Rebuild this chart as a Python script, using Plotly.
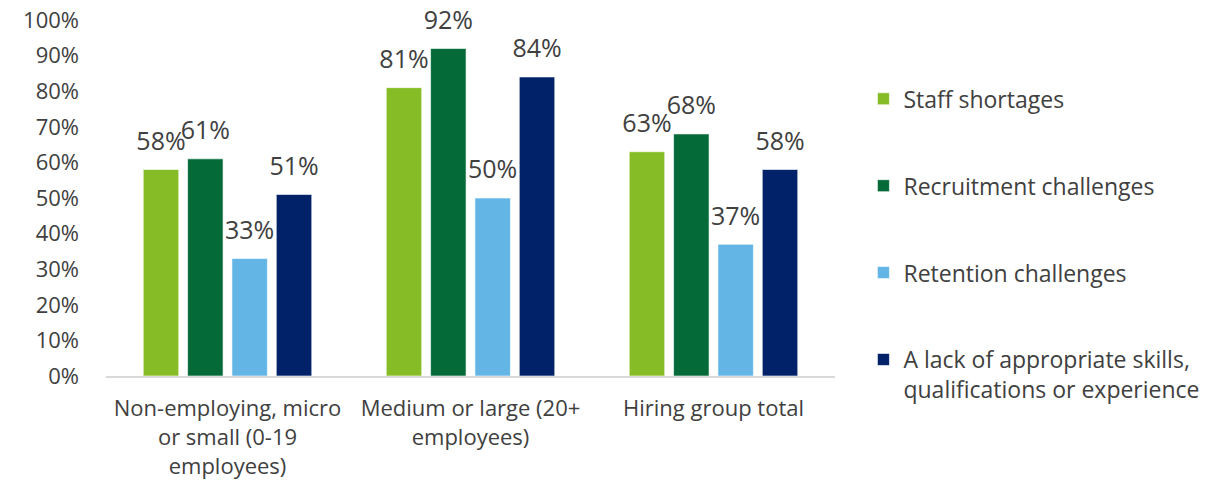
import plotly.graph_objects as go

# Business size groups (x-axis categories)
categories = [
    "Non-employing, micro<br>or small (0-19<br>employees)",
    "Medium or large (20+<br>employees)",
    "Hiring group total",
]

# Share of businesses reporting each challenge
series_names = [
    "Staff shortages",
    "Recruitment challenges",
    "Retention challenges",
    "A lack of appropriate skills,<br>qualifications or experience",
]
staff_shortages = [0.58, 0.81, 0.63]
recruitment = [0.61, 0.92, 0.68]
retention = [0.33, 0.50, 0.37]
lack_of_skills = [0.51, 0.84, 0.58]

series_values = [staff_shortages, recruitment, retention, lack_of_skills]
colors = ["#86BC25", "#046A38", "#62B5E5", "#012169"]

y_ticks = [i / 10 for i in range(11)]

FONT = "Open Sans, Noto Sans, sans-serif"
TEXT_COLOR = "#404040"
BAR_GAP = 0.27

fig = go.Figure()
for i, (name, vals, col) in enumerate(zip(series_names, series_values, colors)):
    fig.add_trace(
        go.Bar(
            name=name,
            x=categories,
            y=vals,
            offsetgroup=str(i),
            marker=dict(color=col, line=dict(color="rgba(255,255,255,0.6)", width=1)),
            legendgroup=f"g{i}",
            hoverinfo="skip",
        )
    )

# Value labels, grouped the same way as the bars and lifted by an invisible marker
for i, vals in enumerate(series_values):
    fig.add_trace(
        go.Scatter(
            x=categories,
            y=vals,
            offsetgroup=str(i),
            mode="markers+text",
            marker=dict(size=20, opacity=0),
            text=[f"{v:.0%}" for v in vals],
            textposition="top center",
            textfont=dict(family=FONT, size=25, color=TEXT_COLOR),
            cliponaxis=False,
            showlegend=False,
            hoverinfo="skip",
        )
    )

fig.update_layout(
    width=1217,
    height=487,
    margin=dict(l=106, r=382, t=20, b=111),
    paper_bgcolor="white",
    plot_bgcolor="white",
    barmode="group",
    bargap=BAR_GAP,
    bargroupgap=0.2,
    scattermode="group",
    scattergap=BAR_GAP,
    font=dict(family=FONT, size=22, color=TEXT_COLOR),
    showlegend=True,
    legend=dict(
        x=1.039,
        xanchor="left",
        y=0.839,
        yanchor="top",
        traceorder="grouped",
        tracegroupgap=54,
        valign="top",
        font=dict(family=FONT, size=23, color=TEXT_COLOR),
        bgcolor="rgba(0,0,0,0)",
    ),
    xaxis=dict(
        automargin=False,
        showline=True,
        linecolor="#D9D9D9",
        linewidth=2,
        ticks="",
        ticklabelstandoff=12,
        tickfont=dict(family=FONT, size=22, color=TEXT_COLOR),
        showgrid=False,
    ),
    yaxis=dict(
        automargin=False,
        range=[0, 1],
        tickvals=y_ticks,
        tickformat=".0%",
        showgrid=False,
        showline=False,
        zeroline=False,
        ticks="",
        ticklabelstandoff=26,
        tickfont=dict(family=FONT, size=22, color=TEXT_COLOR),
    ),
)

fig.write_html("out.html")
